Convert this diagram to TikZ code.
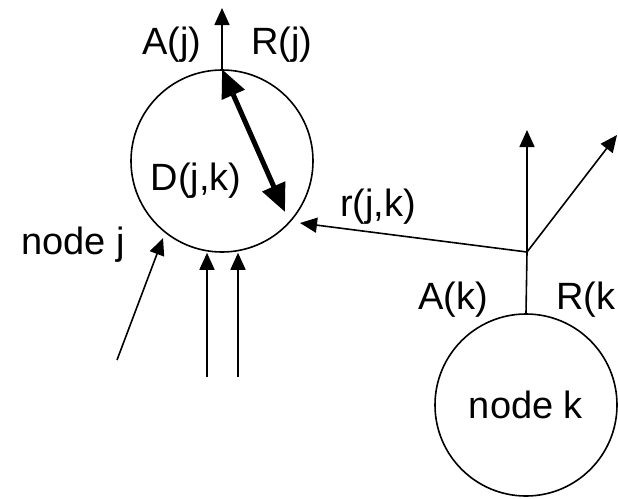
\documentclass[tikz,border=0pt]{standalone}
\usepackage{fontspec}
\setmainfont{Liberation Sans}
\usetikzlibrary{arrows.meta, positioning, calc}

\begin{document}
\begin{tikzpicture}[x=1pt, y=-1pt, font=\fontsize{38}{42}\selectfont]
    \tikzstyle{station} = [circle, draw=black, line width=1.6pt, minimum size=182pt, inner sep=0pt]
    \tikzstyle{flow} = [-{Triangle[length=17pt, width=15pt]}, line width=1.6pt]
    \tikzstyle{dflow} = [{Triangle[length=28pt, width=24pt]}-{Triangle[length=28pt, width=24pt]}, line width=5pt]
    \tikzstyle{lbl} = [inner sep=0pt]

    \useasboundingbox (0,0) rectangle (618,498);

    \node (nodej) [station] at (222,161) {};
    \node (nodek) [station] at (526,405) {node k};

    \coordinate (jtop)   at (222,8);
    \coordinate (dtip)   at (285,212);
    \coordinate (jin)    at (117,360);
    \coordinate (jend)   at (163,238);
    \coordinate (inone)  at (207,377);
    \coordinate (intwo)  at (238,377);
    \coordinate (branch) at (527,252);
    \coordinate (ktop)   at (527,130);
    \coordinate (kdiag)  at (617,135);
    \coordinate (rend)   at (300,223);

    \node (aj)  [lbl] at (172,45) {A(j)};
    \node (rj)  [lbl] at (282,45) {R(j)};
    \node (djk) [lbl] at (196,181) {D(j,k)};
    \node (lj)  [lbl] at (73,245) {node j};
    \node (rjk) [lbl] at (378,207) {r(j,k)};
    \node (ak)  [lbl] at (453,300) {A(k)};
    \node (rk)  [lbl, anchor=west] at (556,300) {R(k};

    \draw [flow] (nodej.north) -- (jtop);
    \draw [dflow] (nodej.north) -- (dtip);
    \draw [flow] (jin) -- (jend);
    \draw [flow] (inone) -- (inone |- nodej.south);
    \draw [flow] (intwo) -- (intwo |- nodej.south);
    \draw [line width=1.6pt] (nodek.north) -- (branch);
    \draw [flow] (branch) -- (ktop);
    \draw [flow] (branch) -- (kdiag);
    \draw [flow] (branch) -- (rend);
\end{tikzpicture}
\end{document}
